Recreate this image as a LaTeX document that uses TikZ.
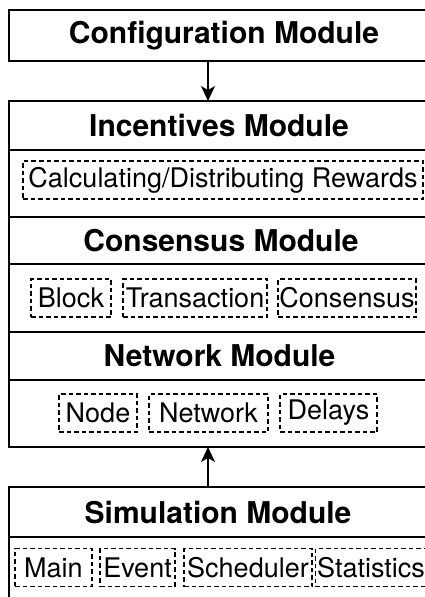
\documentclass[tikz,border=0pt]{standalone}
\usepackage{fontspec}
\setmainfont{TeX Gyre Heros}
\usetikzlibrary{arrows.meta}

\tikzset{
  frame/.style={draw=black, line width=1.7pt},
  sep/.style={draw=black, line width=1.7pt},
  title/.style={font=\fontsize{30}{32}\selectfont\bfseries, inner sep=0pt},
  part/.style={draw=black, line width=1.2pt, dash pattern=on 4.5pt off 3pt,
    font=\fontsize{27}{29}\selectfont, inner sep=0pt, minimum height=38pt},
  flow/.style={line width=1.4pt, -{Stealth[length=15pt, width=14pt, inset=4pt]}}
}

\begin{document}
\begin{tikzpicture}[x=1pt, y=-1pt]
\useasboundingbox (0,0) rectangle (425,597);
\clip (0,0) rectangle (425,597);

% Configuration module
\draw[frame] (9,10) rectangle (434,61);
\node[title] (cfg) at (224,35.5) {Configuration Module};
\coordinate (cfgB) at (208,61);

% Stacked module box: incentives, consensus, network
\draw[frame] (9,101) rectangle (434,447);
\coordinate (stackT) at (208,101);
\coordinate (stackB) at (208,447);
\draw[sep] (9,150) -- (434,150);
\draw[sep] (9,217) -- (434,217);
\draw[sep] (9,264) -- (434,264);
\draw[sep] (9,332) -- (434,332);
\draw[sep] (9,380) -- (434,380);

\node[title] (inc) at (219,125.5) {Incentives Module};
\node[part, minimum width=400pt] (rew) at (223,180) {Calculating/Distributing Rewards};

\node[title] (con) at (221,240.5) {Consensus Module};
\node[part, minimum width=80pt] (blk) at (71,298) {Block};
\node[part, minimum width=144pt] (trx) at (195,298) {Transaction};
\node[part, minimum width=138pt] (cns) at (347,298) {Consensus};

\node[title] (net) at (219.5,356) {Network Module};
\node[part, minimum width=78pt] (nod) at (98,413) {Node};
\node[part, minimum width=119pt] (nwk) at (208.5,413) {Network};
\node[part, minimum width=97pt] (dly) at (328.5,413) {Delays};

% Simulation module
\draw[frame] (9,487) rectangle (434,605);
\coordinate (simT) at (208,487);
\draw[sep] (9,537) -- (434,537);
\node[title] (sim) at (218,512) {Simulation Module};
\node[part, minimum width=77pt] (mn) at (53.5,567.5) {Main};
\node[part, minimum width=75pt] (evt) at (137.5,567.5) {Event};
\node[part, minimum width=128pt] (sch) at (248,567.5) {Scheduler};
\node[part, anchor=west, text width=113pt, align=left, inner xsep=1.5pt] (sts) at (315,567.5) {Statistics};

% Connectors
\draw[flow] (cfgB) -- (stackT);
\draw[flow] (simT) -- (stackB);
\end{tikzpicture}
\end{document}
